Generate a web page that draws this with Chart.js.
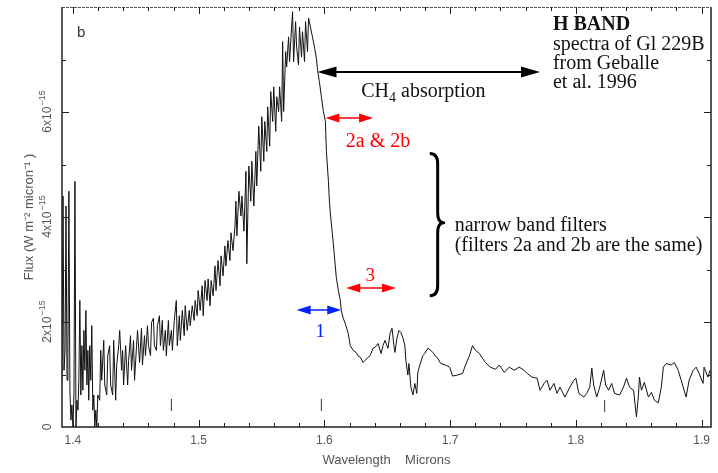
<!DOCTYPE html>
<html>
<head>
<meta charset="utf-8">
<script src="https://cdn.jsdelivr.net/npm/chart.js@4.4.1/dist/chart.umd.min.js"></script>
<style>
  html, body { margin: 0; padding: 0; background: #fff; }
</style>
</head>
<body>
<canvas id="spectrum" width="718" height="473"></canvas>
<script>
// H band spectrum of Gl 229B (Geballe et al. 1996).
// Flux is in units of 1e-15 W m^-2 micron^-1.
const wavelength = [
  1.3913,1.3921,1.3929,1.3937,1.3945,1.3953,1.3960,1.3968,1.3976,1.3984,1.3992,1.4000,1.4008,1.4016,1.4024,1.4032,1.4040,1.4047,
  1.4055,1.4063,1.4071,1.4079,1.4087,1.4095,1.4103,1.4111,1.4119,1.4126,1.4134,1.4142,1.4150,1.4158,1.4166,1.4174,1.4182,1.4190,
  1.4198,1.4213,1.4221,1.4229,1.4245,1.4253,1.4269,1.4277,1.4292,1.4300,1.4316,1.4324,1.4340,1.4348,1.4364,1.4372,1.4387,1.4395,
  1.4403,1.4419,1.4435,1.4443,1.4458,1.4466,1.4482,1.4490,1.4506,1.4514,1.4530,1.4545,1.4553,1.4569,1.4577,1.4593,1.4601,1.4617,
  1.4625,1.4640,1.4648,1.4664,1.4672,1.4688,
  1.4696,1.4711,1.4719,1.4735,1.4743,1.4759,1.4767,1.4783,1.4791,1.4806,1.4822,1.4830,1.4846,1.4854,1.4870,1.4885,1.4893,1.4909,
  1.4925,1.4933,1.4949,1.4964,1.4972,1.4988,1.4996,1.5012,1.5028,1.5036,1.5051,1.5067,1.5075,1.5091,1.5099,1.5115,1.5130,1.5138,
  1.5154,1.5170,1.5178,1.5194,1.5209,1.5217,1.5233,1.5249,1.5257,1.5273,1.5289,
  1.5296,1.5304,1.5320,1.5336,1.5344,1.5360,1.5376,1.5383,1.5399,1.5415,1.5423,1.5439,1.5455,1.5462,1.5478,1.5494,1.5502,1.5518,
  1.5526,1.5542,1.5549,1.5565,1.5573,1.5589,1.5597,1.5613,1.5621,1.5636,1.5644,1.5660,1.5668,1.5676,1.5692,1.5700,1.5715,1.5723,
  1.5739,1.5747,1.5755,1.5771,1.5779,1.5794,1.5802,1.5818,1.5826,1.5842,1.5850,1.5866,1.5874,1.5889,1.5905,1.5921,1.5937,
  1.5945,1.5960,1.5976,1.5992,1.6008,1.6016,1.6032,1.6040,1.6047,1.6071,1.6095,1.6111,1.6127,1.6134,1.6150,1.6166,1.6190,1.6206,
  1.6229,1.6253,1.6269,1.6285,1.6308,1.6324,1.6348,1.6364,1.6387,1.6403,1.6427,1.6451,1.6466,1.6482,1.6506,1.6522,1.6538,1.6553,
  1.6561,1.6577,1.6593,1.6609,1.6625,1.6640,1.6648,
  1.6664,1.6672,1.6688,1.6704,1.6719,1.6735,1.6743,1.6759,1.6783,1.6798,1.6822,1.6846,1.6862,1.6885,1.6901,1.6925,1.6964,1.6996,
  1.7020,1.7059,1.7099,1.7122,1.7154,1.7178,1.7202,1.7233,1.7257,1.7281,1.7320,1.7360,1.7391,1.7431,1.7470,1.7510,1.7549,1.7589,
  1.7613,1.7652,1.7692,1.7715,1.7747,1.7771,1.7794,1.7826,1.7850,1.7874,1.7913,1.7953,1.7984,1.8000,1.8024,1.8063,1.8087,1.8111,
  1.8127,1.8142,1.8166,1.8190,1.8221,1.8237,1.8261,1.8285,1.8308,1.8348,1.8379,1.8403,1.8427,1.8459,1.8482,1.8498,1.8506,1.8522,
  1.8545,1.8577,1.8601,1.8625,1.8656,1.8680,1.8696,1.8719,1.8759,1.8783,1.8814,1.8838,1.8877,1.8901,1.8933,1.8957,1.8980,1.9012,
  1.9020,1.9051,1.9067
];
const flux = [
  0.89,4.40,1.08,1.46,4.21,0.89,1.36,4.49,0.70,0.13,0.42,0.00,0.61,4.68,0.00,0.51,0.32,0.89,
  2.41,0.61,1.55,0.70,1.84,1.08,2.22,0.80,1.46,0.51,1.55,0.89,1.93,0.32,0.61,0.00,0.32,0.00,
  0.61,0.51,1.46,0.89,1.65,0.80,0.61,1.36,1.55,0.80,0.61,1.65,0.51,1.18,1.55,1.84,1.08,1.46,
  0.80,1.55,0.80,1.27,1.74,1.08,1.65,0.89,1.55,1.84,1.23,1.88,1.18,1.74,1.36,1.93,1.55,1.36,
  1.99,2.07,1.55,1.46,1.93,2.12,
  1.55,2.03,1.46,1.84,1.36,2.03,1.55,1.84,1.46,2.03,2.41,1.55,2.12,1.65,2.22,1.74,2.31,1.84,
  2.22,1.93,2.31,2.03,2.41,2.12,2.60,2.22,2.69,2.12,2.79,2.41,2.82,2.31,2.79,2.50,3.07,2.60,
  3.17,2.69,3.26,2.88,3.45,3.07,3.55,3.17,3.70,3.36,3.83,
  4.30,3.64,4.49,4.02,4.40,3.73,4.87,3.11,4.97,4.30,5.06,4.21,5.25,4.59,5.73,4.87,5.91,5.06,
  5.82,5.25,6.10,5.35,6.39,5.82,6.48,5.63,6.29,6.01,6.48,5.82,7.34,6.01,7.15,6.86,7.43,6.96,
  7.62,7.91,6.96,7.72,7.24,6.90,7.62,7.05,7.53,6.96,7.72,7.15,7.79,7.62,7.43,7.24,7.01,
  6.81,6.58,6.29,6.01,5.82,5.25,4.68,4.30,4.08,3.49,2.84,2.60,2.41,2.22,2.07,1.97,1.78,1.55,
  1.46,1.42,1.35,1.33,1.23,1.27,1.33,1.36,1.50,1.52,1.59,1.40,1.55,1.65,1.50,1.78,1.88,1.55,
  1.42,1.69,1.84,1.80,1.69,1.55,1.27,
  0.99,1.21,0.76,0.61,0.83,0.64,1.04,1.18,1.36,1.40,1.50,1.46,1.42,1.35,1.31,1.21,1.18,1.14,
  0.97,0.99,1.02,1.18,1.36,1.55,1.46,1.40,1.31,1.23,1.14,1.10,1.18,1.04,1.14,1.08,1.14,1.08,
  1.02,0.95,0.93,0.70,0.83,0.89,0.70,0.83,0.64,0.76,0.57,0.76,0.89,0.93,0.64,0.57,0.64,0.76,
  1.12,0.80,0.57,0.76,1.08,0.80,0.70,0.83,0.64,0.61,0.76,0.93,0.76,0.70,0.19,0.61,0.95,0.70,
  0.85,0.57,0.66,0.51,0.46,0.76,1.14,1.21,1.18,1.23,1.08,0.89,0.57,0.89,1.08,1.14,1.02,0.83,
  1.14,0.95,1.08
];

// small vertical marks near the bottom of the plot
const markWavelength = [1.4783, 1.5976, 1.8229];
const markFlux = [0.42, 0.42, 0.40];

const xLabelValues = [1.4, 1.5, 1.6, 1.7, 1.8, 1.9];
const yLabelValues = [0, 2, 4, 6];

// double arrows: wavelength span and flux level
const arrows = [
  { from: 1.5945, to: 1.7715, level: 6.77, color: '#000', head: 19, half: 5.5, width: 2 },   // CH4 absorption
  { from: 1.6008, to: 1.6387, level: 5.88, color: '#ff0000', head: 14, half: 4.5, width: 1.5 }, // 2a & 2b
  { from: 1.6174, to: 1.6569, level: 2.64, color: '#ff0000', head: 14, half: 4.5, width: 1.5 }, // 3
  { from: 1.5779, to: 1.6134, level: 2.22, color: '#0022ff', head: 14, half: 4.5, width: 1.5 }  // 1
];

const serif = '"Liberation Serif", "Times New Roman", serif';
const notes = [
  { text: 'b', wl: 1.4032, level: 7.43, font: '15px "Liberation Sans", sans-serif', color: '#333', align: 'left' },
  { text: 'H BAND', wl: 1.7818, level: 7.56, font: 'bold 20px ' + serif, color: '#111', align: 'left' },
  { text: 'spectra of Gl 229B', wl: 1.7818, level: 7.18, font: '20px ' + serif, color: '#111', align: 'left' },
  { text: 'from Geballe', wl: 1.7818, level: 6.81, font: '20px ' + serif, color: '#111', align: 'left' },
  { text: 'et al. 1996', wl: 1.7818, level: 6.45, font: '20px ' + serif, color: '#111', align: 'left' },
  { text: '2a & 2b', wl: 1.6427, level: 5.33, font: '20px ' + serif, color: '#ff0000', align: 'center' },
  { text: '3', wl: 1.6364, level: 2.79, font: '19px ' + serif, color: '#ff0000', align: 'center' },
  { text: '1', wl: 1.5968, level: 1.71, font: '19px ' + serif, color: '#0022ff', align: 'center' },
  { text: 'narrow band filters', wl: 1.7036, level: 3.73, font: '20px ' + serif, color: '#111', align: 'left' },
  { text: '(filters 2a and 2b are the same)', wl: 1.7036, level: 3.36, font: '20px ' + serif, color: '#111', align: 'left' }
];
const ch4Label = { wl: 1.6293, level: 6.29 };
const brace = { wl: 1.6901, tipWl: 1.6838, cuspWl: 1.6949, top: 5.21, mid: 3.89, bottom: 2.50 };

function doubleArrow(ctx, x1, x2, yy, a) {
  ctx.strokeStyle = a.color;
  ctx.fillStyle = a.color;
  ctx.lineWidth = a.width;
  ctx.beginPath();
  ctx.moveTo(x1 + a.head * 0.8, yy);
  ctx.lineTo(x2 - a.head * 0.8, yy);
  ctx.stroke();
  ctx.beginPath();
  ctx.moveTo(x1, yy);
  ctx.lineTo(x1 + a.head, yy - a.half);
  ctx.lineTo(x1 + a.head, yy + a.half);
  ctx.closePath();
  ctx.fill();
  ctx.beginPath();
  ctx.moveTo(x2, yy);
  ctx.lineTo(x2 - a.head, yy - a.half);
  ctx.lineTo(x2 - a.head, yy + a.half);
  ctx.closePath();
  ctx.fill();
}

// frame with inward ticks, rotated y labels and the figure annotations
const frameAndNotes = {
  id: 'frameAndNotes',
  afterDatasetsDraw(chart) {
    const { ctx, chartArea: a, scales: { x, y } } = chart;
    ctx.save();

    // frame
    ctx.strokeStyle = '#222';
    ctx.lineWidth = 1.5;
    ctx.beginPath();
    ctx.moveTo(a.left, a.top); ctx.lineTo(a.left, a.bottom);
    ctx.lineTo(a.right, a.bottom); ctx.lineTo(a.right, a.top);
    ctx.stroke();
    ctx.lineWidth = 1;
    ctx.strokeStyle = '#555';
    ctx.setLineDash([3, 1]);
    ctx.beginPath();
    ctx.moveTo(a.left, a.top + 0.5); ctx.lineTo(a.right, a.top + 0.5);
    ctx.stroke();
    ctx.setLineDash([]);

    // inward ticks
    ctx.strokeStyle = '#222';
    ctx.lineWidth = 1;
    x.ticks.forEach(t => {
      const px = Math.round(x.getPixelForValue(t.value)) + 0.5;
      if (px < a.left + 3 || px > a.right - 3) return;
      const major = xLabelValues.some(v => Math.abs(v - t.value) < 1e-6);
      const len = major ? 7 : 4;
      ctx.beginPath();
      ctx.moveTo(px, a.bottom); ctx.lineTo(px, a.bottom - len);
      ctx.moveTo(px, a.top); ctx.lineTo(px, a.top + len);
      ctx.stroke();
    });
    y.ticks.forEach(t => {
      const py = Math.round(y.getPixelForValue(t.value)) + 0.5;
      if (py < a.top + 3 || py > a.bottom - 3) return;
      const len = yLabelValues.includes(t.value) ? 7 : 4;
      ctx.beginPath();
      ctx.moveTo(a.left, py); ctx.lineTo(a.left + len, py);
      ctx.moveTo(a.right, py); ctx.lineTo(a.right - len, py);
      ctx.stroke();
    });

    // rotated y tick labels, e.g. 2x10^-15
    ctx.fillStyle = '#555';
    ctx.textBaseline = 'middle';
    yLabelValues.forEach(v => {
      const py = y.getPixelForValue(v);
      ctx.save();
      ctx.translate(a.left - 14, py);
      ctx.rotate(-Math.PI / 2);
      if (v === 0) {
        ctx.font = '12px "Liberation Sans", sans-serif';
        ctx.textAlign = 'center';
        ctx.fillText('0', 0, 0);
      } else {
        const main = v + 'x10';
        ctx.font = '12px "Liberation Sans", sans-serif';
        const w1 = ctx.measureText(main).width;
        ctx.font = '9px "Liberation Sans", sans-serif';
        const w2 = ctx.measureText('\u221215').width;
        const start = -(w1 + w2) / 2;
        ctx.textAlign = 'left';
        ctx.font = '12px "Liberation Sans", sans-serif';
        ctx.fillText(main, start, 0);
        ctx.font = '9px "Liberation Sans", sans-serif';
        ctx.fillText('\u221215', start + w1 + 1, -5);
      }
      ctx.restore();
    });

    // arrows
    arrows.forEach(ar => {
      doubleArrow(ctx, x.getPixelForValue(ar.from), x.getPixelForValue(ar.to), Math.round(y.getPixelForValue(ar.level)), ar);
    });

    // text notes
    ctx.textBaseline = 'alphabetic';
    notes.forEach(n => {
      ctx.font = n.font;
      ctx.fillStyle = n.color;
      ctx.textAlign = n.align;
      ctx.fillText(n.text, x.getPixelForValue(n.wl), y.getPixelForValue(n.level));
    });

    // CH4 absorption with subscript
    let cx = x.getPixelForValue(ch4Label.wl);
    const cy = y.getPixelForValue(ch4Label.level);
    ctx.fillStyle = '#111';
    ctx.textAlign = 'left';
    ctx.font = '20px ' + serif;
    ctx.fillText('CH', cx, cy);
    cx += ctx.measureText('CH').width;
    ctx.font = '14px ' + serif;
    ctx.fillText('4', cx, cy + 5);
    cx += ctx.measureText('4').width;
    ctx.font = '20px ' + serif;
    ctx.fillText(' absorption', cx, cy);

    // curly brace grouping the narrow band filters
    const bx = x.getPixelForValue(brace.wl);
    const tx = x.getPixelForValue(brace.tipWl);
    const kx = x.getPixelForValue(brace.cuspWl);
    const yt = y.getPixelForValue(brace.top);
    const ym = y.getPixelForValue(brace.mid);
    const yb = y.getPixelForValue(brace.bottom);
    ctx.strokeStyle = '#000';
    ctx.lineWidth = 3;
    ctx.lineJoin = 'round';
    ctx.beginPath();
    ctx.moveTo(tx, yt);
    ctx.quadraticCurveTo(bx, yt, bx, yt + 10);
    ctx.lineTo(bx, ym - 10);
    ctx.quadraticCurveTo(bx, ym, kx, ym);
    ctx.quadraticCurveTo(bx, ym, bx, ym + 10);
    ctx.lineTo(bx, yb - 10);
    ctx.quadraticCurveTo(bx, yb, tx, yb);
    ctx.stroke();

    ctx.restore();
  }
};

new Chart(document.getElementById('spectrum'), {
  type: 'line',
  data: {
    datasets: [
      {
        label: 'Gl 229B',
        data: wavelength.map((w, i) => ({ x: w, y: flux[i] })),
        borderColor: '#111',
        borderWidth: 1,
        pointRadius: 0,
        tension: 0,
        fill: false
      },
      {
        label: 'marks',
        data: markWavelength.map((w, i) => ({ x: w, y: markFlux[i] })),
        showLine: false,
        pointStyle: 'line',
        rotation: 90,
        pointRadius: 6,
        borderColor: '#333',
        borderWidth: 1
      }
    ]
  },
  options: {
    responsive: false,
    animation: false,
    devicePixelRatio: 1,
    layout: { padding: { top: 5, right: 3, left: 0, bottom: 0 } },
    plugins: { legend: { display: false }, tooltip: { enabled: false } },
    scales: {
      x: {
        type: 'linear',
        min: 1.3913,
        max: 1.9075,
        grid: { display: false, drawTicks: false },
        border: { display: false },
        ticks: {
          stepSize: 0.02,
          includeBounds: false,
          autoSkip: false,
          maxRotation: 0,
          padding: 6,
          color: '#555',
          font: { family: '"Liberation Sans", sans-serif', size: 12 },
          callback: (v) => {
            const hit = xLabelValues.find(t => Math.abs(t - v) < 1e-6);
            return hit !== undefined ? hit.toFixed(1) : '';
          }
        },
        title: {
          display: true,
          text: 'Wavelength    Microns',
          color: '#555',
          font: { family: '"Liberation Sans", sans-serif', size: 13 },
          padding: { top: 0, bottom: 5 }
        },
        afterFit: (scale) => { scale.height = 46; }
      },
      y: {
        min: 0,
        max: 8,
        grid: { display: false, drawTicks: false },
        border: { display: false },
        ticks: { display: false, stepSize: 1 },
        title: {
          display: true,
          text: 'Flux (W m\u207B\u00B2 micron\u207B\u00B9 )',
          color: '#555',
          font: { family: '"Liberation Sans", sans-serif', size: 13 },
          padding: { top: 22, bottom: 0 }
        },
        afterFit: (scale) => { scale.width = 62; }
      }
    }
  },
  plugins: [frameAndNotes]
});
</script>
</body>
</html>
